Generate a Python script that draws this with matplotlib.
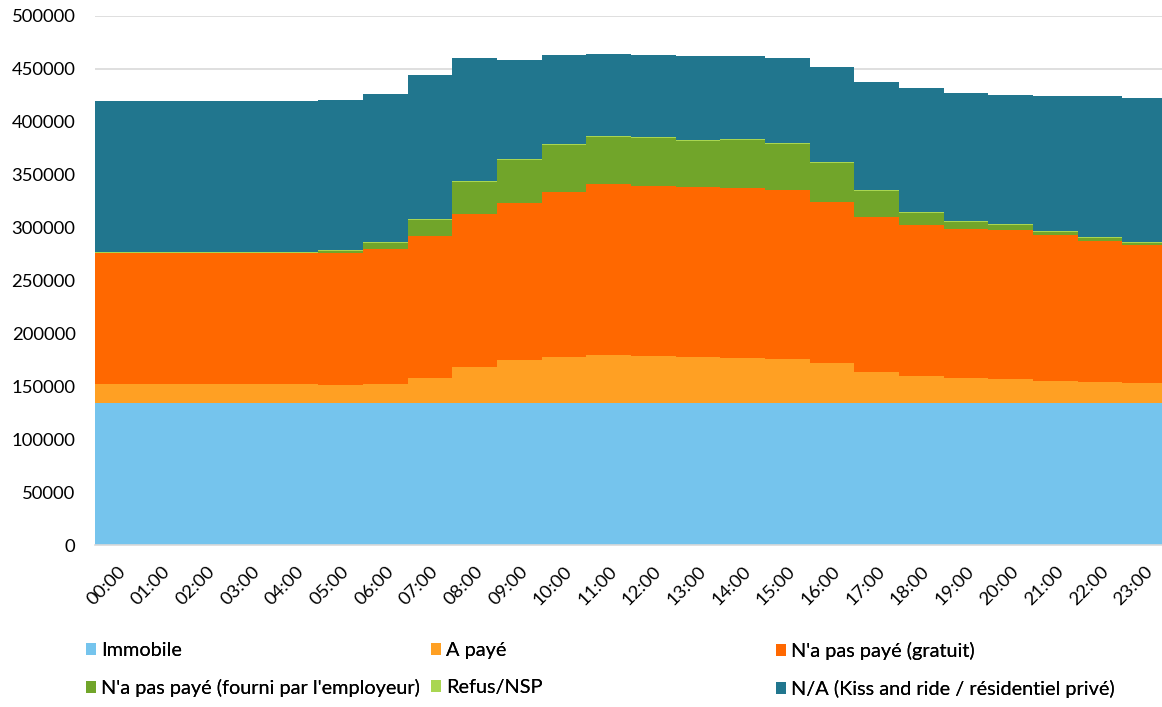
import numpy as np
import matplotlib
matplotlib.use("Agg")
import matplotlib.pyplot as plt
from matplotlib.patches import Patch

plt.rcParams['font.family'] = ['Lato', 'DejaVu Sans']

hours = [f"{h:02d}:00" for h in range(24)]

immobile = [134000] * 24
a_paye = [17800, 17800, 17800, 17800, 17800, 17200, 18100, 23800, 33900, 40500,
          43600, 45200, 44300, 43600, 43000, 42100, 38000, 29800, 25400, 23800,
          22800, 21300, 20000, 19100]
gratuit = [123700, 123700, 123700, 123700, 123700, 124300, 127300, 134500, 144800, 148200,
           155900, 161500, 160800, 160300, 160500, 159300, 152400, 146200, 142800, 140700,
           140400, 137300, 133500, 130400]
employeur = [400, 400, 400, 400, 400, 2300, 5800, 15100, 30100, 40800,
             44500, 44800, 45300, 44000, 45000, 43000, 36500, 24200, 11700, 6700,
             5200, 3500, 2700, 2000]
refus = [600, 600, 600, 600, 600, 800, 800, 900, 1000, 1000,
         1000, 1000, 1000, 1000, 1000, 1000, 1000, 900, 800, 800,
         800, 800, 800, 800]
non_applicable = [143200, 142900, 142900, 142900, 142600, 142100, 140300, 135500, 116600, 93400,
                  83900, 77000, 77500, 79300, 78100, 80300, 89400, 102100, 116600, 120900,
                  122200, 127500, 132800, 135900]

series = [
    ("Immobile", immobile, "#75C4ED"),
    ("A payé", a_paye, "#FFA023"),
    ("N'a pas payé (gratuit)", gratuit, "#FF6800"),
    ("N'a pas payé (fourni par l'employeur)", employeur, "#71A52A"),
    ("Refus/NSP", refus, "#A9D651"),
    ("N/A (Kiss and ride / résidentiel privé)", non_applicable, "#21768E"),
]

fig = plt.figure(figsize=(11.62, 7.07), dpi=100)
ax = fig.add_axes([95 / 1162, (707 - 545) / 707, (1167 - 95) / 1162, 529.3 / 707])

x = np.arange(25)
base = np.zeros(24)
for name, vals, color in series:
    v = np.asarray(vals, dtype=float)
    top = base + v
    ax.fill_between(x, np.append(base, base[-1]), np.append(top, top[-1]),
                    step='post', color=color, linewidth=0, zorder=2)
    base = top

ax.set_xlim(0, 24)
ax.set_ylim(0, 500000)
ax.set_yticks(np.arange(0, 500001, 50000))
ax.yaxis.set_major_formatter(matplotlib.ticker.FuncFormatter(lambda v, p: f"{int(v)}"))
ax.set_xticks(np.arange(24) + 0.5)
ax.set_xticklabels(hours, rotation=45, ha='right', va='top', rotation_mode='anchor')
ax.tick_params(axis='both', length=0, labelsize=13.3, colors='#000000')
ax.tick_params(axis='y', pad=14)
ax.tick_params(axis='x', pad=13)
ax.grid(axis='y', color='#d9d9d9', linewidth=1.2, zorder=0)
ax.set_axisbelow(True)
for s in ['top', 'right', 'left']:
    ax.spines[s].set_visible(False)
ax.spines['bottom'].set_color('#d9d9d9')
ax.spines['bottom'].set_linewidth(1.2)

# legend laid out in three fixed-width columns
cols = [(0, 3), (1, 4), (2, 5)]
col_x = [86, 431, 776]
for (i, j), cx in zip(cols, col_x):
    handles = [Patch(facecolor=series[k][2], edgecolor='none', label=series[k][0]) for k in (i, j)]
    leg = fig.legend(handles=handles, loc='upper left',
                     bbox_to_anchor=(cx / 1162, 1 - 642 / 707),
                     frameon=False, fontsize=14.3, handlelength=0.52, handleheight=0.52,
                     handletextpad=0.25, labelspacing=1.0, borderaxespad=0, borderpad=0)
    fig.add_artist(leg)

fig.savefig("out.png", dpi=100)
